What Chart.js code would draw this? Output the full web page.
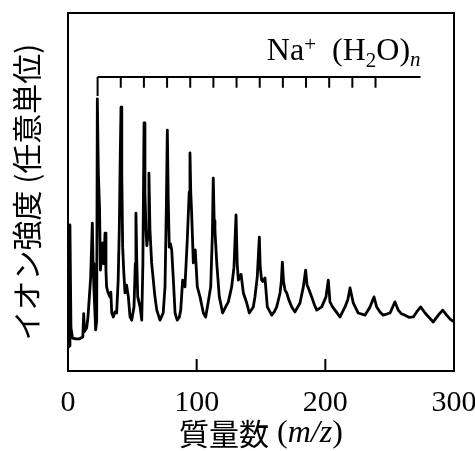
<!DOCTYPE html>
<html>
<head>
<meta charset="utf-8">
<script src="https://cdn.jsdelivr.net/npm/chart.js@4"></script>
<style>
  body { margin: 0; background: #fff; }
  #wrap { width: 475px; height: 451px; position: relative; }
</style>
</head>
<body>
<div id="wrap"><canvas id="myChart"></canvas></div>
<script>
// mass spectrum: m/z and intensity (arbitrary units, 0-100)
const mass = [0, 0.8, 1.5, 2.3, 3.5, 6, 9, 11.5, 12.2, 12.8, 14.5, 15.5, 16.6, 17.6, 18.9, 19.5, 20.2, 21.5, 22.3, 22.8,
  23.6, 24.5, 25.2, 26, 27, 27.8, 28.8, 29.5, 30, 31, 32.6, 33.3, 34, 35.2, 36.5, 37.8, 39, 39.9, 40.6, 41.2,
  41.8, 42.5, 43.3, 44.3, 45.5, 46.9, 48.2, 49.5, 51.3, 52.3, 52.8, 53.5, 54.2, 56, 57.3, 58.2, 59.1, 59.8, 60.6, 61.3,
  62.2, 62.9, 63.7, 65, 66.3, 67.5, 69, 71.5, 74, 75.4, 76.4, 77.2, 77.9, 78.7, 79.7, 80.6, 81.9, 83.2, 84.9, 86.5,
  87.6, 89.1, 90.9, 92.7, 94.2, 94.8, 95.4, 96.1, 97.4, 98.9, 100.5, 102.6, 105.2, 107, 109, 110.9, 112.2, 112.9, 113.6, 114.2,
  115.6, 117.6, 120.2, 122.5, 124.6, 127.2, 129, 130.6, 131.5, 132.4, 134.5, 136.3, 138.9, 140.9, 144, 145.3, 147.1, 148.7, 149.4, 150.5,
  151.5, 153.1, 154.9, 158.3, 160.3, 162.2, 164.8, 165.8, 166.6, 167.5, 168.7, 170, 171.5, 173.9, 176.4, 180.3, 182.9, 184.7, 185.8, 186.8,
  189.4, 191.5, 193.3, 197.2, 200.5, 202.3, 203.6, 205.5, 207.5, 211.4, 215.3, 217.5, 219.2, 220.5, 221.7, 225.6, 230.8, 234.7, 237.8, 239.9,
  242.5, 245, 250.3, 254.1, 256.7, 259, 261.9, 265, 268.4, 271, 274.1, 277.5, 280.5, 283.9, 287.8, 291.2, 294.3, 297, 300];
const intensity = [6.5, 7, 40.8, 12, 9.2, 9, 9, 9.5, 16, 11, 12, 15, 20.7, 26, 41.3, 30, 22.6, 11.5, 14, 76,
  55, 45.8, 28.2, 31, 35.8, 30, 38.5, 28, 23.5, 22, 20.7, 22, 16.2, 15.1, 16.5, 16.2, 25.4, 40.2, 60, 73.7,
  55, 34.6, 28, 21.8, 24, 20.7, 15.1, 14.2, 17.9, 30, 44.1, 30, 20.7, 17.9, 14.2, 30, 69.3, 50, 39.4, 35,
  38, 55.3, 39.4, 30.2, 25.4, 21, 17, 14.2, 16.2, 23.5, 45, 67.3, 48, 34.6, 35.5, 33.8, 25.4, 16.2, 14.2, 15,
  17, 25.4, 23.5, 36.6, 50, 60.9, 50, 44.1, 30.2, 33.8, 23.5, 20.7, 16.2, 15.1, 19.3, 23.5, 38, 53.9, 42, 39.4,
  30.2, 20.7, 16.2, 17.9, 19.3, 23.5, 29, 43.6, 30, 25.4, 27, 21.8, 19, 16.2, 17.9, 20.7, 26.3, 37.4, 29, 25.4,
  25, 26, 17.9, 15.6, 16.5, 17.9, 21.8, 25, 30.4, 25, 22.6, 21.8, 20, 17.9, 16.5, 19, 23.5, 28.2, 24, 23.2,
  20.7, 18.5, 17, 17.9, 20.7, 25.4, 19.3, 18, 17, 15.1, 17.9, 20, 23.2, 21, 19, 16.2, 15.6, 17.9, 20.7, 17.9,
  16.5, 15.6, 16.2, 19.3, 17, 16, 15.6, 15, 15.1, 16.5, 17.9, 16.2, 15, 13.7, 15.6, 17, 15.6, 14.5, 13.7];
const xTicks = [0, 100, 200, 300];
// Na+ (H2O)n cluster positions, n = 0..12
const clusterMass = [23, 41, 59, 77, 95, 113, 131, 149, 167, 185, 203, 221, 239];
const bracketEnd = 274;

const serif = '"Liberation Serif", "Times New Roman", serif';
const cjk = '"Noto Sans CJK JP", sans-serif';

// draws a list of [text, font, dy] pieces starting at x
function drawPieces(c, pieces, x, y) {
  for (const p of pieces) {
    c.font = p[1];
    c.fillText(p[0], x, y + p[2]);
    x += c.measureText(p[0]).width;
  }
}
function piecesWidth(c, pieces) {
  let w = 0;
  for (const p of pieces) { c.font = p[1]; w += c.measureText(p[0]).width; }
  return w;
}

const frame = {
  id: 'frame',
  afterDraw(chart) {
    const c = chart.ctx, a = chart.chartArea;
    const xs = chart.scales.x, ys = chart.scales.y;
    c.save();
    c.strokeStyle = '#000';
    c.fillStyle = '#000';
    c.lineWidth = 2;
    c.strokeRect(a.left, a.top, a.right - a.left, a.bottom - a.top);
    // inward ticks on the bottom axis
    c.beginPath();
    xTicks.forEach(v => {
      const px = xs.getPixelForValue(v);
      c.moveTo(px, a.bottom);
      c.lineTo(px, a.bottom - 12);
    });
    c.stroke();

    // cluster bracket
    const by = ys.getPixelForValue(82.1);
    c.beginPath();
    c.moveTo(xs.getPixelForValue(clusterMass[0]), by);
    c.lineTo(xs.getPixelForValue(bracketEnd), by);
    clusterMass.forEach((m, i) => {
      const px = xs.getPixelForValue(m);
      c.moveTo(px, by);
      c.lineTo(px, i === 0 ? ys.getPixelForValue(76.8) : ys.getPixelForValue(79.1));
    });
    c.stroke();

    // Na+ (H2O)n label
    c.textBaseline = 'alphabetic';
    c.textAlign = 'left';
    const f = '32px ' + serif, fs = '21px ' + serif, fi = 'italic 21px ' + serif;
    const label = [['Na', f, 0], ['+', fs, -9], ['  (H', f, 0], ['2', fs, 7], ['O)', f, 0], ['n', fi, 6]];
    drawPieces(c, label, xs.getPixelForValue(bracketEnd) - piecesWidth(c, label), 60);

    // x axis title
    c.textBaseline = 'middle';
    const xt = [['質量数', '30px ' + cjk, 0], [' (', '32px ' + serif, 0], ['m/z', 'italic 32px ' + serif, 0], [')', '32px ' + serif, 0]];
    drawPieces(c, xt, (a.left + a.right) / 2 - piecesWidth(c, xt) / 2, 434);

    // y axis title
    c.translate(27, (a.top + a.bottom) / 2);
    c.rotate(-Math.PI / 2);
    c.textAlign = 'center';
    c.font = '30px ' + cjk;
    c.fillText('イオン強度 (任意単位)', 0, 0);
    c.restore();
  }
};

const ctx = document.getElementById('myChart');

new Chart(ctx, {
  type: 'line',
  data: {
    datasets: [{
      data: mass.map((m, i) => ({ x: m, y: intensity[i] })),
      borderColor: '#000',
      borderWidth: 2.8,
      borderJoinStyle: 'round',
      pointRadius: 0,
      tension: 0,
      fill: false
    }]
  },
  options: {
    responsive: true,
    maintainAspectRatio: false,
    animation: false,
    layout: { padding: { left: 68, top: 13, right: 21, bottom: 0 } },
    plugins: { legend: { display: false }, tooltip: { enabled: false } },
    scales: {
      x: {
        type: 'linear',
        min: 0,
        max: 300,
        afterBuildTicks: s => { s.ticks = xTicks.map(v => ({ value: v })); },
        ticks: { font: { family: serif, size: 30 }, color: '#000', padding: 6, maxRotation: 0, autoSkip: false },
        grid: { display: false },
        border: { display: false },
        afterFit: s => { s.height = 80; s.paddingLeft = 0; s.paddingRight = 0; }
      },
      y: { display: false, min: 0, max: 100 }
    }
  },
  plugins: [frame]
});
</script>
</body>
</html>
